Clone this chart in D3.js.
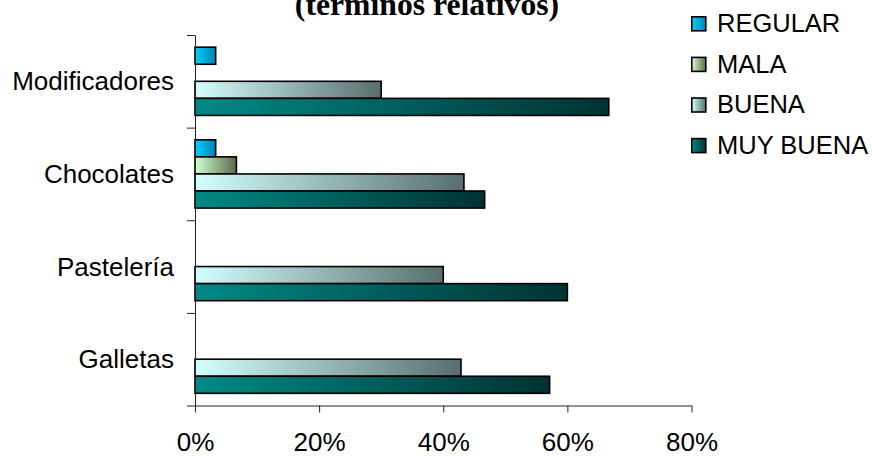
<!DOCTYPE html>
<html>
<head>
<meta charset="utf-8">
<script src="https://cdn.jsdelivr.net/npm/d3@7"></script>
<style>
  html, body { margin: 0; padding: 0; background: #fff; }
  svg { display: block; }
</style>
</head>
<body>
<svg id="chart" width="872" height="456"></svg>
<script>
// Categories, top to bottom
const categories = ["Modificadores", "Chocolates", "Pastelería", "Galletas"];
// Series, drawn top to bottom inside each category
const series = ["REGULAR", "MALA", "BUENA", "MUY BUENA"];
// Share of answers per category (fraction of 1)
const regular   = [0.0333, 0.0333, 0, 0];
const mala      = [0, 0.0667, 0, 0];
const buena     = [0.30, 0.4333, 0.40, 0.4286];
const muyBuena  = [0.6667, 0.4667, 0.60, 0.5714];
const xTicks = [0, 0.2, 0.4, 0.6, 0.8];

const values = { "REGULAR": regular, "MALA": mala, "BUENA": buena, "MUY BUENA": muyBuena };
const gradStops = {
  "REGULAR":   ["#00d0ff", "#0084b4"],
  "MALA":      ["#d2ffd2", "#5c6a4c"],
  "BUENA":     ["#d4ffff", "#586e6e"],
  "MUY BUENA": ["#008a86", "#003232"]
};

const svg = d3.select("#chart");
const font = "'Liberation Sans', Arial, sans-serif";

const plot = { left: 195, right: 691.5, top: 35, bottom: 405.5 };

const x = d3.scaleLinear().domain([0, 0.8]).range([plot.left, plot.right]);
const y0 = d3.scaleBand().domain(categories).range([plot.top, plot.bottom]).padding(0);
const bw = y0.bandwidth();
const groupPad = bw * 0.1316;
const y1 = d3.scaleBand().domain(series).range([groupPad, bw - groupPad]).padding(0);

// gradients
const defs = svg.append("defs");
series.forEach((s, i) => {
  const g = defs.append("linearGradient").attr("id", "g" + i)
    .attr("x1", "0").attr("y1", "0").attr("x2", "1").attr("y2", "0");
  g.append("stop").attr("offset", "0").attr("stop-color", gradStops[s][0]);
  g.append("stop").attr("offset", "1").attr("stop-color", gradStops[s][1]);
});

// title (second line)
svg.append("text")
  .attr("x", 427).attr("y", 15)
  .attr("text-anchor", "middle")
  .style("font-family", "'Liberation Serif', 'Times New Roman', serif")
  .style("font-weight", "bold")
  .style("font-size", "31.7px")
  .text("(términos relativos)");

// bars
const groups = svg.append("g").selectAll("g")
  .data(categories)
  .join("g")
  .attr("transform", d => `translate(0,${y0(d)})`);

groups.selectAll("rect")
  .data((c, ci) => series.map((s, si) => ({ s, si, v: values[s][ci] })).filter(d => d.v > 0))
  .join("rect")
  .attr("x", x(0))
  .attr("y", d => y1(d.s))
  .attr("width", d => x(d.v) - x(0))
  .attr("height", y1.bandwidth())
  .attr("fill", d => `url(#g${d.si})`)
  .attr("stroke", "#000")
  .attr("stroke-width", 1.6);

// y axis: line with tick marks at category boundaries
const yEdge = d3.scaleLinear().domain([0, categories.length]).range([plot.bottom, plot.top]);
const yAxis = svg.append("g")
  .attr("transform", `translate(${plot.left},0)`)
  .call(d3.axisLeft(yEdge).tickValues(d3.range(categories.length + 1))
    .tickSize(8).tickSizeOuter(0).tickFormat(""));
yAxis.selectAll("path, line").attr("stroke", "#222");

// category labels
svg.append("g").selectAll("text")
  .data(categories)
  .join("text")
  .attr("x", 174)
  .attr("y", d => y0(d) + bw / 2 + 9)
  .attr("text-anchor", "end")
  .style("font-family", font)
  .style("font-size", "26px")
  .attr("fill", "#000")
  .text(d => d);

// x axis
const xAxis = svg.append("g")
  .attr("transform", `translate(0,${plot.bottom})`)
  .call(d3.axisBottom(x).tickValues(xTicks).tickFormat(d3.format(".0%"))
    .tickSize(7).tickSizeOuter(0).tickPadding(20.5));
xAxis.selectAll("path, line").attr("stroke", "#222");
xAxis.selectAll("text")
  .style("font-family", font)
  .style("font-size", "26px")
  .attr("fill", "#000");

// legend
const legend = svg.append("g").attr("transform", "translate(691,0)");
const rows = legend.selectAll("g")
  .data(series)
  .join("g")
  .attr("transform", (d, i) => `translate(0,${16 + i * 40.6})`);
rows.append("rect")
  .attr("x", 0.8).attr("y", 0.8)
  .attr("width", 14).attr("height", 14)
  .attr("fill", (d, i) => `url(#g${i})`)
  .attr("stroke", "#000")
  .attr("stroke-width", 1.6);
rows.append("text")
  .attr("x", 26).attr("y", 16)
  .style("font-family", font)
  .style("font-size", "25.5px")
  .attr("fill", "#000")
  .text(d => d);
</script>
</body>
</html>
